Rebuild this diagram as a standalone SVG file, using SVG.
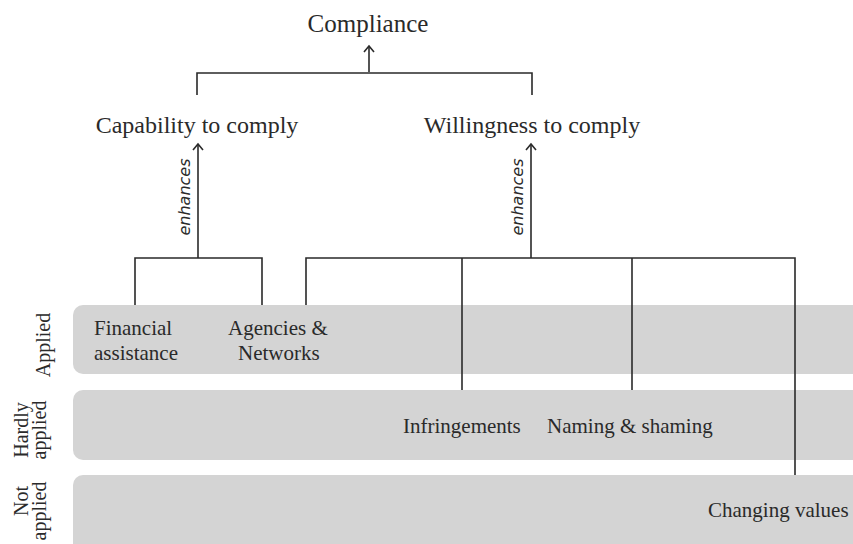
<svg xmlns="http://www.w3.org/2000/svg" width="853" height="544" viewBox="0 0 853 544">
<defs>
<marker id="arr" viewBox="0 0 12 12" refX="10" refY="6" markerWidth="12" markerHeight="12" markerUnits="userSpaceOnUse" orient="auto">
<polyline points="4,1 10,6 4,11" fill="none" stroke="#2a2a2a" stroke-width="1.6"/>
</marker>
</defs>
<style>
.band{fill:#d4d4d4}
.t{font-family:"Liberation Serif","Times New Roman",serif;fill:#2a2a2a}
.big{font-size:24px}
.mid{font-size:21px}
.row{font-size:20px}
.enh{font-family:"DejaVu Sans","Liberation Sans",sans-serif;font-style:italic;font-size:16px;fill:#2a2a2a}
.ln{fill:none;stroke:#2a2a2a;stroke-width:1.6}
</style>
<rect width="853" height="544" fill="#ffffff"/>
<g id="bands">
<rect class="band" x="73" y="305" width="800" height="69" rx="10"/>
<rect class="band" x="73" y="390" width="800" height="70" rx="10"/>
<rect class="band" x="73" y="475" width="800" height="90" rx="10"/>
</g>
<g id="row-labels">
<text class="t row" transform="translate(50,345) rotate(-90)" text-anchor="middle">Applied</text>
<text class="t row" transform="translate(28,430) rotate(-90)" text-anchor="middle">Hardly</text>
<text class="t row" transform="translate(46,430) rotate(-90)" text-anchor="middle">applied</text>
<text class="t row" transform="translate(28,501) rotate(-90)" text-anchor="middle">Not</text>
<text class="t row" transform="translate(46,511) rotate(-90)" text-anchor="middle">applied</text>
</g>
<g id="connectors">
<path class="ln" d="M369,72 V46" marker-end="url(#arr)"/>
<path class="ln" d="M197,95 V73 H532 V95"/>
<path class="ln" d="M198,258 V144" marker-end="url(#arr)"/>
<path class="ln" d="M135,305 V258 H262 V305"/>
<path class="ln" d="M531,258 V144" marker-end="url(#arr)"/>
<path class="ln" d="M306,305 V258 H795 V475"/>
<path class="ln" d="M462,258 V390"/>
<path class="ln" d="M632,258 V390"/>
<text class="enh" transform="translate(190,197) rotate(-90)" text-anchor="middle">enhances</text>
<text class="enh" transform="translate(523,197) rotate(-90)" text-anchor="middle">enhances</text>
</g>
<g id="compliance"><text class="t big" x="368" y="32" text-anchor="middle" style="font-size:25px">Compliance</text></g>
<g id="capability"><text class="t big" x="197" y="133" text-anchor="middle">Capability to comply</text></g>
<g id="willingness"><text class="t big" x="532" y="133" text-anchor="middle">Willingness to comply</text></g>
<g id="financial"><text class="t mid" x="94" y="335">Financial</text><text class="t mid" x="94" y="360">assistance</text></g>
<g id="agencies"><text class="t mid" x="228" y="335">Agencies &amp;</text><text class="t mid" x="238" y="360">Networks</text></g>
<g id="infringements"><text class="t mid" x="403" y="433">Infringements</text></g>
<g id="naming"><text class="t mid" x="547" y="433">Naming &amp; shaming</text></g>
<g id="changing"><text class="t mid" x="708" y="517">Changing values</text></g>
</svg>
